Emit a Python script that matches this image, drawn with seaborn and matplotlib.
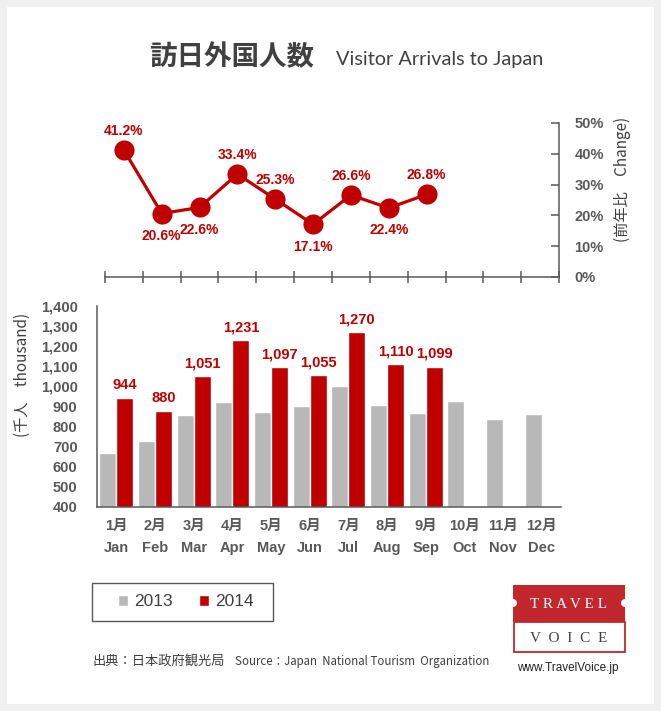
import matplotlib.pyplot as plt
import matplotlib.patches as mpatches
from matplotlib.ticker import FuncFormatter
import seaborn as sns
import pandas as pd
import numpy as np

# 月ラベル
months_jp = ['1月', '2月', '3月', '4月', '5月', '6月', '7月', '8月', '9月', '10月', '11月', '12月']
months_en = ['Jan', 'Feb', 'Mar', 'Apr', 'May', 'Jun', 'Jul', 'Aug', 'Sep', 'Oct', 'Nov', 'Dec']

# 訪日外国人数 (千人)
visitors_2013 = [669, 730, 857, 923, 875, 901, 1003, 907, 867, 927, 838, 863]
visitors_2014 = [944, 880, 1051, 1231, 1097, 1055, 1270, 1110, 1099]

# 前年比 (%)
change_2014 = [41.2, 20.6, 22.6, 33.4, 25.3, 17.1, 26.6, 22.4, 26.8]
label_above = [True, False, False, True, True, False, True, False, True]

RED = '#C00000'
GRAY = '#B8B8B8'
TEXT = '#595959'
DARK = '#404040'

month_labels = [f'{j}\n{e}' for j, e in zip(months_jp, months_en)]
df = pd.DataFrame({
    'month': month_labels + month_labels[:len(visitors_2014)],
    'year': ['2013'] * len(visitors_2013) + ['2014'] * len(visitors_2014),
    'visitors': visitors_2013 + visitors_2014,
})

sns.set_style('white')
plt.rcParams['font.family'] = ['Liberation Sans', 'Noto Sans CJK JP']

W, H = 661, 711
fig = plt.figure(figsize=(W / 100, H / 100), dpi=100)
fig.patch.set_facecolor('#F0F0F0')

# 背景・装飾用の軸 (ピクセル座標)
bg = fig.add_axes([0, 0, 1, 1], zorder=-1)
bg.set_xlim(0, W)
bg.set_ylim(H, 0)
bg.axis('off')
bg.add_patch(mpatches.Rectangle((7, 7), 647, 697, facecolor='white', edgecolor='none'))


def fig_box(x0, y_top, x1, y_bot):
    return [x0 / W, 1 - y_bot / H, (x1 - x0) / W, (y_bot - y_top) / H]


# ---- 前年比 (折れ線) ----
ax_line = fig.add_axes(fig_box(105, 123, 559, 277))
ax_line.set_facecolor('none')
sns.lineplot(x=np.arange(len(change_2014)), y=change_2014, color=RED, lw=2.3,
             marker='o', markersize=14.5, markeredgewidth=0, ax=ax_line)
ax_line.set_xlim(-0.5, 11.5)
ax_line.set_ylim(0, 50)
for i, (v, up) in enumerate(zip(change_2014, label_above)):
    ax_line.annotate(f'{v:.1f}%', (i, v), xytext=(0, 14 if up else -16),
                     textcoords='offset points', ha='center', va='center',
                     color=RED, fontsize=10, fontweight='bold')
ax_line.set_xticks(np.arange(-0.5, 12, 1))
ax_line.set_xticklabels([])
ax_line.yaxis.tick_right()
ax_line.set_yticks(np.arange(0, 51, 10))
ax_line.yaxis.set_major_formatter(FuncFormatter(lambda v, p: f'{v:.0f}%'))
for s in ['top', 'left']:
    ax_line.spines[s].set_visible(False)
for s in ['bottom', 'right']:
    ax_line.spines[s].set_color(TEXT)
    ax_line.spines[s].set_linewidth(1.1)
ax_line.tick_params(axis='x', direction='inout', length=9, width=1.1, color=TEXT, bottom=True)
ax_line.tick_params(axis='y', direction='in', length=6, width=1.1, color=TEXT, right=True,
                    left=False, pad=11, labelsize=10.5, labelcolor=TEXT)
for t in ax_line.get_yticklabels():
    t.set_fontweight('bold')
ax_line.set_xlabel('')
ax_line.set_ylabel('')

# ---- 訪日外国人数 (棒グラフ) ----
ax_bar = fig.add_axes(fig_box(97, 306, 561, 507))
ax_bar.set_facecolor('none')
sns.barplot(data=df, x='month', y='visitors', hue='year', order=month_labels,
            hue_order=['2013', '2014'], palette=[GRAY, RED], saturation=1,
            width=0.88, gap=0, ax=ax_bar)
handles, labels = ax_bar.get_legend_handles_labels()
ax_bar.get_legend().remove()
ax_bar.bar_label(ax_bar.containers[1], labels=[f'{v:,}' for v in visitors_2014],
                 padding=4, color=RED, fontsize=10.5, fontweight='bold')
ax_bar.set_ylim(400, 1400)
ax_bar.set_yticks(np.arange(400, 1401, 100))
ax_bar.yaxis.set_major_formatter(FuncFormatter(lambda v, p: f'{v:,.0f}'))
ax_bar.set_xlim(-0.5, 11.5)
for s in ['top', 'right']:
    ax_bar.spines[s].set_visible(False)
for s in ['bottom', 'left']:
    ax_bar.spines[s].set_color(TEXT)
    ax_bar.spines[s].set_linewidth(1.1)
ax_bar.tick_params(axis='y', length=0, pad=14, labelsize=10.5, labelcolor=TEXT)
ax_bar.tick_params(axis='x', length=0, pad=8.5, labelsize=10.5, labelcolor=TEXT)
for t in ax_bar.get_yticklabels() + ax_bar.get_xticklabels():
    t.set_fontweight('bold')
for t in ax_bar.get_xticklabels():
    t.set_linespacing(1.75)
ax_bar.set_xlabel('')
ax_bar.set_ylabel('')

# 軸タイトル
bg.text(22, 375, '(千人　thousand)', rotation=90, ha='center', va='center',
        fontsize=11, color=DARK, family=['Noto Sans CJK JP'])
bg.text(622, 179, '(前年比　Change)', rotation=90, ha='center', va='center',
        fontsize=11, color=DARK, family=['Noto Sans CJK JP'])

# タイトル
bg.text(149, 57, '訪日外国人数', ha='left', va='center', fontsize=19.8, fontweight='bold',
        color=DARK, family=['Noto Sans CJK JP'])
bg.text(336, 60, 'Visitor Arrivals to Japan', ha='left', va='center', fontsize=14.3,
        color=DARK, family=['Lato', 'DejaVu Sans'])

# 凡例
bg.add_patch(mpatches.Rectangle((92, 583), 181, 38, facecolor='white', edgecolor=TEXT, lw=1))
fig.legend(handles, labels, loc='center', bbox_to_anchor=(186 / W, 1 - 602 / H), ncol=2,
           frameon=False, fontsize=12.5, handlelength=0.6, handleheight=0.6,
           handletextpad=0.35, columnspacing=1.5, labelcolor=DARK)

# 出典
bg.text(93, 661, '出典：日本政府観光局', ha='left', va='center', fontsize=9.5,
        color=DARK, family=['Noto Sans CJK JP'])
bg.text(235, 661, 'Source：Japan  National Tourism  Organization', ha='left', va='center',
        fontsize=8.3, color=DARK, family=['Noto Sans CJK JP'])

# ロゴ
LOGO = '#C1272D'
bg.add_patch(mpatches.Rectangle((513, 585), 112, 37, facecolor=LOGO, edgecolor='none'))
bg.add_patch(mpatches.Rectangle((513.5, 622), 111, 30, facecolor='white', edgecolor=LOGO, lw=1.3))
bg.add_patch(mpatches.Circle((513, 603), 4, facecolor='white', edgecolor='none'))
bg.add_patch(mpatches.Circle((625, 603), 4, facecolor='white', edgecolor='none'))
bg.text(569, 604, 'T R A V E L', ha='center', va='center', fontsize=11, color='white',
        family=['Liberation Serif'])
bg.text(569, 638, 'V  O  I  C  E', ha='center', va='center', fontsize=11, color=DARK,
        family=['Liberation Serif'])
bg.text(568, 668, 'www.TravelVoice.jp', ha='center', va='center', fontsize=8.5, color='#222222',
        family=['Liberation Sans'])

fig.savefig('out.png', dpi=100, facecolor=fig.get_facecolor())
